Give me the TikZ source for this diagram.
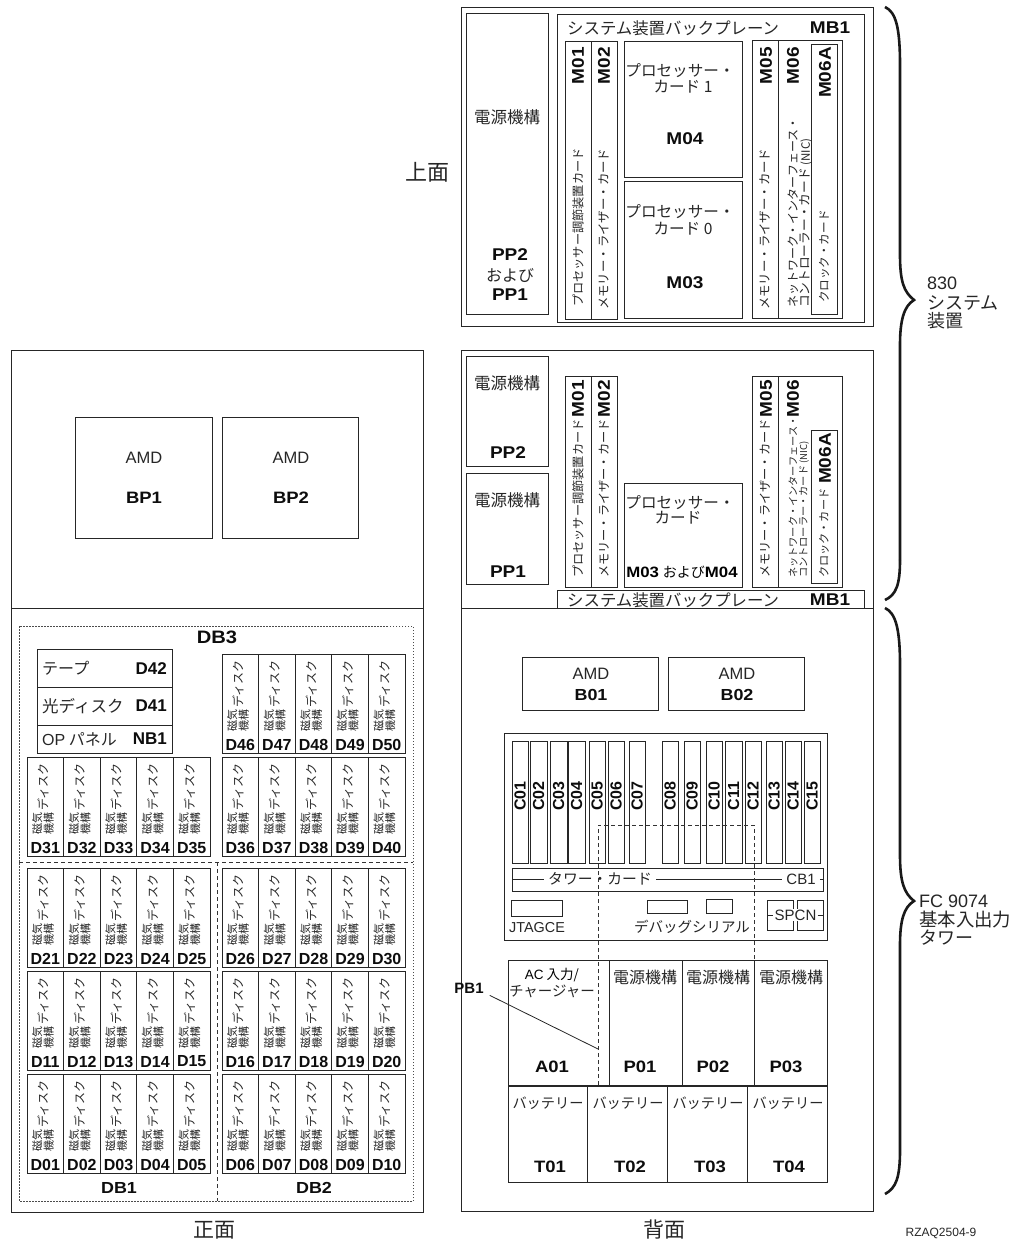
\documentclass[tikz,border=0pt]{standalone}
\usepackage{fontspec}
\setmainfont{Liberation Sans}
\newfontfamily\jpfont{Noto Sans CJK JP}
\newfontfamily\widebf[FakeStretch=1.12,UprightFont=* Bold]{Liberation Sans}
\newfontfamily\sfbf[UprightFont=* Bold]{Liberation Sans}
\newcommand{\fs}[1]{\fontsize{#1}{#1}\selectfont}
\usetikzlibrary{positioning,calc}

\begin{document}
\begin{tikzpicture}[
  x=1pt, y=-1pt,
  part/.style={draw=black!85, line width=0.8pt},
  jp/.style={font=\jpfont\fs{#1}, inner sep=0pt, text=black!85},
  sf/.style={font=\fs{#1}, inner sep=0pt, text=black!85},
  bf/.style={font=\widebf\fs{#1}, inner sep=0pt, text=black!95},
  tag/.style={font=\sfbf\fs{#1}, inner sep=0pt, text=black!95},
  tag/.default=16,
  up/.style={rotate=90, anchor=west},
  upend/.style={rotate=90, anchor=east},
  hood/.style={draw=black!80, line width=0.8pt, dash pattern=on 4pt off 3pt},
  dots/.style={draw=black!70, line width=0.8pt, dash pattern=on 1.5pt off 1.5pt},
  brace/.style={draw=black!90, line width=2.6pt}
]
\useasboundingbox (0,0) rectangle (1023,1242);

% upper right view
\draw[part] (461,7) rectangle (873,326);
\draw[part] (466,13) rectangle (548,314);
\draw[part] (557,14) rectangle (864,322);
\foreach \xa/\xb/\ya/\yb in {565/591/41/319, 591/617/41/319, 624/742/41/177, 624/742/181/318, 752/778/40/318, 778/842/40/318, 811/837/44/314}
  \draw[part] (\xa,\ya) rectangle (\xb,\yb);
\node[jp=16.4, anchor=west] (mbtop) at (567,28) {システム装置バックプレーン};
\node[bf=17] (mbtopid) at (830,28) {MB1};
\node[jp=16.5] (pstop) at (507,117) {電源機構};
\node[bf=17] (pptwo) at (510,255) {PP2};
\node[jp=16] (ppand) at (510,275) {および};
\node[bf=17] (ppone) at (510,295) {PP1};
\node[jp=15.6] (cpuonea) at (680,71) {プロセッサー・};
\node[jp=15.6] (cpuoneb) at (683,87) {カード 1};
\node[bf=17] (mfour) at (685,139) {M04};
\node[jp=15.6] (cpuzeroa) at (680,212) {プロセッサー・};
\node[jp=15.6] (cpuzerob) at (683,229) {カード 0};
\node[bf=17] (mthree) at (685,283) {M03};
\foreach \nm/\x/\txt in {a/578/M01, b/604/M02, c/766/M05, d/793/M06, e/825/M06A}
  \node[bf=17, upend] (top\nm) at (\x,47) {\txt};
\node[jp=12.2, up] (pwr) at (578,307) {プロセッサー調節装置カード};
\node[jp=12.4, up] (riserl) at (604,310) {メモリー・ライザー・カード};
\node[jp=12.4, up] (riserr) at (765,310) {メモリー・ライザー・カード};
\node[jp=12, up] (neta) at (793,308) {ネットワーク・インターフェース・};
\node[jp=12.7, up] (netb) at (806,308) {コントローラー・カード {\fs{11.5}(NIC)}};
\node[jp=11.6, up] (clock) at (824,303) {クロック・カード};

% lower right view
\draw[part] (461,350) rectangle (873,608);
\foreach \xa/\xb/\ya/\yb in {466/548/356/466, 466/548/473/584, 565/591/376/587, 591/617/376/587, 624/742/483/587, 752/778/376/587, 778/842/376/587, 811/837/430/583, 557/864/590/608}
  \draw[part] (\xa,\ya) rectangle (\xb,\yb);
\node[jp=16.5] (psb) at (507,383) {電源機構};
\node[bf=17] (ppb) at (508,453) {PP2};
\node[jp=16.5] (psa) at (507,500) {電源機構};
\node[bf=17] (ppa) at (508,572) {PP1};
\foreach \nm/\x/\txt in {a/578/M01, b/604/M02, c/766/M05, d/793/M06}
  \node[bf=17, upend] (low\nm) at (\x,380) {\txt};
\node[bf=17, upend] (lowe) at (825,433) {M06A};
\node[jp=12.2, up] (pwrb) at (578,578) {プロセッサー調節装置カード};
\node[jp=12.2, up] (riserlb) at (604,578) {メモリー・ライザー・カード};
\node[jp=12.2, up] (riserrb) at (765,578) {メモリー・ライザー・カード};
\node[jp=10.2, up] (netc) at (793,578) {ネットワーク・インターフェース・};
\node[jp=10.2, up] (netd) at (804,578) {コントローラー・カード {\fs{9.5}(NIC)}};
\node[jp=11.2, up] (clockb) at (824,578) {クロック・カード};
\node[jp=15.6] (cpua) at (680,503) {プロセッサー・};
\node[jp=15.6] (cpub) at (678,518) {カード};
\node[font=\fs{14}, inner sep=0pt] (cpuid) at (682,572) {{\widebf\fs{15}M03} {\jpfont および}{\widebf\fs{15}M04}};
\node[jp=16.4, anchor=west] (mblow) at (567,600) {システム装置バックプレーン};
\node[bf=17] (mblowid) at (830,600) {MB1};

% left column
\draw[part] (11,350) rectangle (423,1212);
\draw[part] (11,608) -- (423,608);
\foreach \xa/\xb/\xm/\txt in {75/212/144/BP1, 222/358/291/BP2} {
  \draw[part] (\xa,417) rectangle (\xb,538);
  \node[sf=16.5] (amd\txt) at (\xm,458) {AMD};
  \node[bf=16.5] (id\txt) at (\xm,498) {\txt};
}
\draw[dots] (19,626) rectangle (413,1201);
\draw[hood] (19,862) -- (413,862);
\draw[hood] (217,862) -- (217,1201);
\node[bf=18] (dbthree) at (217,637) {DB3};
\node[bf=16] (dbone) at (119,1188) {DB1};
\node[bf=16] (dbtwo) at (314,1188) {DB2};
\draw[part] (37,649) rectangle (172,753);
\draw[part] (37,687) -- (172,687);
\draw[part] (37,725) -- (172,725);
\node[jp=16, anchor=west] (tape) at (42,668) {テープ};
\node[tag=17, anchor=east] (dfourtwo) at (167,669) {D42};
\node[jp=16.5, anchor=west] (optical) at (42,706) {光ディスク};
\node[tag=17, anchor=east] (dfourone) at (167,706) {D41};
\node[jp=16, anchor=west] (panel) at (42,739) {{\fontspec{Liberation Sans}OP} パネル};
\node[tag=17, anchor=east] (nbone) at (167,739) {NB1};
\foreach \xo/\yo/\n in {27/1074/1, 27/971/11, 27/868/21, 27/757/31, 222/1074/6, 222/971/16, 222/868/26, 222/757/36, 222/654/46}
  \foreach \k in {0,...,4} {
    \pgfmathtruncatemacro\id{\n+\k}
    \pgfmathsetmacro\xa{\xo+\k*36.6}
    \draw[part] (\xa,\yo) rectangle ++(36.6,99);
    \node[jp=12, upend] (dk\id) at (\xa+16,\yo+6) {ディスク};
    \node[jp=11, rotate=90, align=center] (mg\id) at (\xa+16,\yo+66.5) {磁気\\[0.5pt]機構};
    \node[tag] (d\id) at (\xa+18.3,\yo+90.5) {D\ifnum\id<10 0\fi\id};
  }

% tower back
\draw[part] (461,608) rectangle (873,1211);
\foreach \xa/\xb/\xm/\txt in {522/658/591/B01, 668/804/737/B02} {
  \draw[part] (\xa,657) rectangle (\xb,710);
  \node[sf=16.5] (amd\txt) at (\xm,674) {AMD};
  \node[bf=16] (id\txt) at (\xm,695) {\txt};
}
\draw[part] (504,733) rectangle (827,940);
\foreach \xa/\xb/\txt in {512/528/C01, 530/547/C02, 550/567/C03, 568/585/C04, 589/605/C05, 608/624/C06, 629/645/C07, 662/678/C08, 684/700/C09, 706/722/C10, 725/742/C11, 745/761/C12, 766/782/C13, 785/801/C14, 804/820/C15} {
  \draw[part] (\xa,741) rectangle (\xb,863);
  \node[tag, rotate=90] (\txt) at ({(\xa+\xb)/2},796) {\txt};
}
\draw[part] (512,868) rectangle (823,891);
\node[jp=14.8, inner sep=4pt] (towercard) at (600,879) {タワー・カード};
\node[sf=15, inner sep=4pt] (cbone) at (801,879) {CB1};
\draw[part] (512,879) -- (towercard);
\draw[part] (towercard) -- (cbone);
\draw[part] (cbone) -- (823,879);
\draw[part] (511,900) rectangle (562,916);
\node[sf=14.4] (jtag) at (537,928) {JTAGCE};
\draw[part] (647,900) rectangle (687,913);
\draw[part] (706,899) rectangle (732,913);
\node[jp=14.5] (debug) at (692,927) {デバッグシリアル};
\draw[part] (767,900) rectangle (793,930);
\draw[part] (797,900) rectangle (823,930);
\node[sf=15, fill=white, inner sep=1pt] (spcn) at (795.5,915) {SPCN};
\draw[part] (767,915) -- (spcn);
\draw[part] (spcn) -- (823,915);
\draw[part] (508,960) rectangle (827,1182);
\draw[part, line width=1.2pt] (508,1086) -- (827,1086);
\foreach \x in {609,682,754}
  \draw[part] (\x,960) -- (\x,1086);
\foreach \x in {587,667,747}
  \draw[part] (\x,1086) -- (\x,1182);
\draw[hood] (598,1085) -- (598,825) -- (754,825) -- (754,960);
\node[font=\jpfont\fs{13.5}, inner sep=0pt] (acin) at (552,975) {{\fontspec{Liberation Sans}AC} 入力/};
\node[jp=14.5] (charger) at (552,991) {チャージャー};
\node[bf=16.5] (aone) at (552,1067) {A01};
\foreach \x/\xm/\txt in {645/640/P01, 718/713/P02, 791/786/P03} {
  \node[jp=16] (ps\txt) at (\x,977) {電源機構};
  \node[bf=16.5] (\txt) at (\xm,1067) {\txt};
}
\foreach \x/\xm/\txt in {548/550/T01, 628/630/T02, 708/710/T03, 788/789/T04} {
  \node[jp=14.2] (bat\txt) at (\x,1103) {バッテリー};
  \node[bf=16.5] (\txt) at (\xm,1167) {\txt};
}
\node[tag=15, inner sep=2pt] (pbone) at (469,988) {PB1};
\coordinate (pbend) at (598,1049);
\draw[part] ($(pbone.south east)+(4,0)$) -- (pbend);

% outer labels and braces
\node[jp=22] (topview) at (427,172) {上面};
\node[jp=21] (front) at (214,1230) {正面};
\node[jp=21] (back) at (664,1230) {背面};
\node[sf=12] (figid) at (941,1233) {RZAQ2504-9};
\draw[brace] (885,7) .. controls (896,12) and (900,28) .. (900,65) -- (900,255)
  .. controls (900,282) and (904,292) .. (914,300) .. controls (904,306) and (900,320) .. (900,345) -- (900,560);
\draw[brace] (900,560) .. controls (900,585) and (896,595) .. (885,600);
\draw[brace] (885,608) .. controls (896,613) and (900,630) .. (900,665) -- (900,855)
  .. controls (900,882) and (904,893) .. (914,901) .. controls (904,907) and (900,920) .. (900,945) -- (900,1150)
  .. controls (900,1178) and (896,1188) .. (885,1194);
\node[sf=18, anchor=west] (sysa) at (927,283) {830};
\node[jp=18, anchor=west] (sysb) at (927,303) {システム};
\node[jp=18, anchor=west] (sysc) at (927,321) {装置};
\node[sf=18, anchor=west] (twra) at (919,901) {FC 9074};
\node[jp=18.4, anchor=west] (twrb) at (919,920) {基本入出力};
\node[jp=18, anchor=west] (twrc) at (919,938) {タワー};
\end{tikzpicture}
\end{document}
